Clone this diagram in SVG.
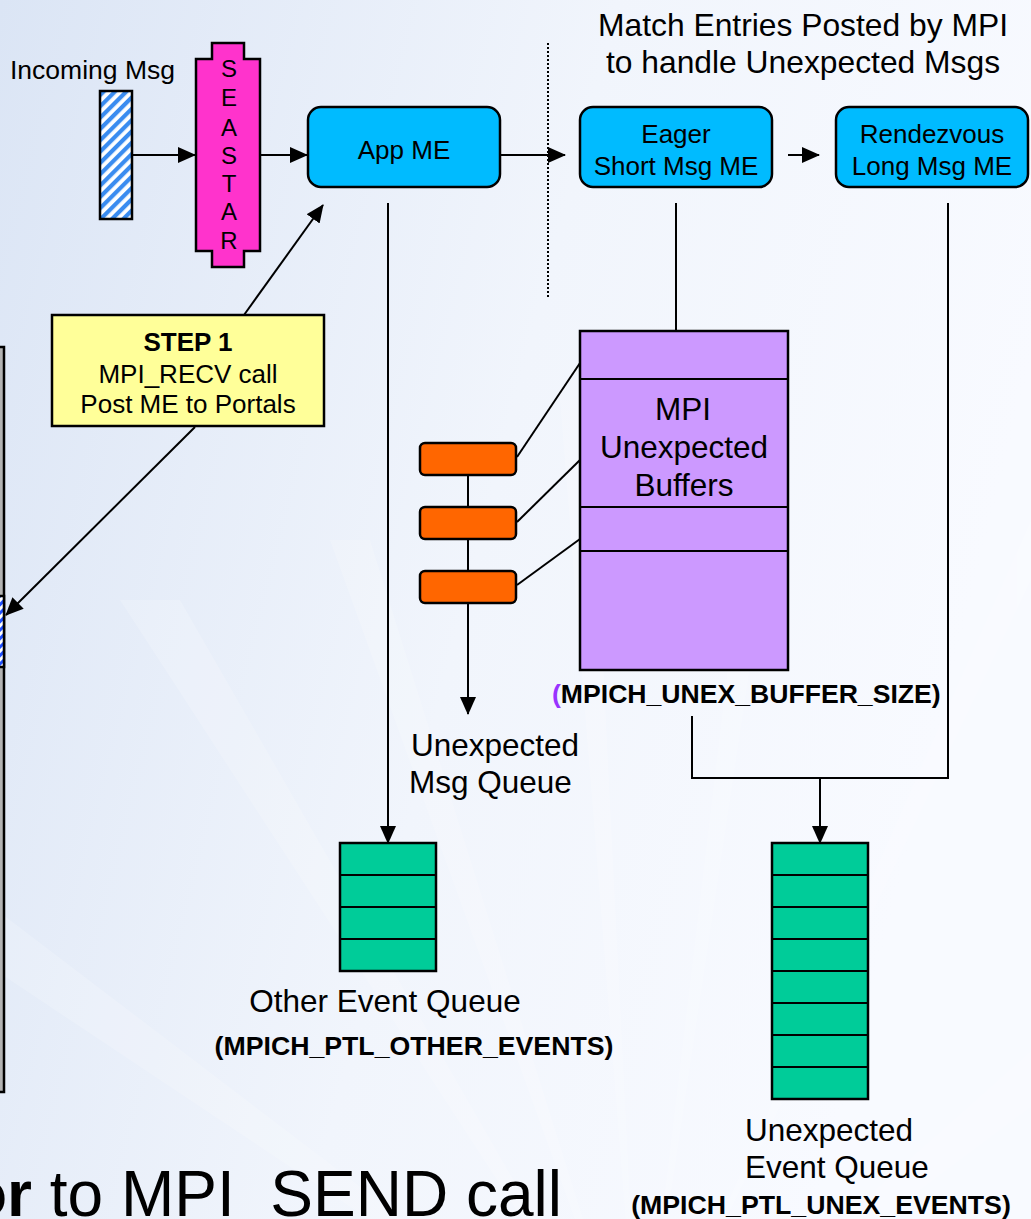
<svg xmlns="http://www.w3.org/2000/svg" width="1031" height="1219" viewBox="0 0 1031 1219">
<defs>
<linearGradient id="bg" x1="0" y1="0" x2="1" y2="0.3">
<stop offset="0" stop-color="#dbe5f5"/>
<stop offset="0.55" stop-color="#f1f5fc"/>
<stop offset="1" stop-color="#f8faff"/>
</linearGradient>
<pattern id="hatch" patternUnits="userSpaceOnUse" width="8" height="8" patternTransform="rotate(-45)">
<rect width="8" height="8" fill="#ffffff"/>
<rect width="8" height="4.2" fill="#3a8cf0"/>
</pattern>
<pattern id="hatch2" patternUnits="userSpaceOnUse" width="6" height="6" patternTransform="rotate(-45)">
<rect width="6" height="6" fill="#ffffff"/>
<rect width="6" height="3" fill="#1f4fff"/>
</pattern>
<marker id="ah" markerUnits="userSpaceOnUse" markerWidth="18" markerHeight="16" refX="17" refY="8" orient="auto">
<path d="M0,0 L18,8 L0,16 z" fill="#000"/>
</marker>
<style>
.t{font-family:"Liberation Sans",Arial,sans-serif;fill:#000;}
.b{font-weight:bold;}
.c{text-anchor:middle;}
.box{stroke:#000;stroke-width:2.5;}
.ln{stroke:#000;stroke-width:2;fill:none;}
.arr{stroke:#000;stroke-width:2;fill:none;marker-end:url(#ah);}
</style>
</defs>

<rect width="1031" height="1219" fill="url(#bg)"/>
<g id="rays" fill="#ffffff" opacity="0.18">
<polygon points="640,1400 -200,760 -200,840"/>
<polygon points="640,1400 120,600 180,600"/>
<polygon points="640,1400 330,540 370,540"/>
<polygon points="640,1400 560,400 590,400"/>
<polygon points="640,1400 760,400 790,400"/>
<polygon points="640,1400 1031,520 1031,580"/>
<polygon points="640,1400 1200,900 1200,980"/>
</g>

<g id="left-bar">
<rect x="-10" y="347" width="14" height="745" fill="#b3b3b3" class="box"/>
<rect x="-10" y="596" width="14" height="71" fill="url(#hatch2)" class="box"/>
</g>

<g id="connectors">
<line class="arr" x1="132" y1="155" x2="195" y2="155"/>
<line class="arr" x1="260" y1="155" x2="307" y2="155"/>
<line class="arr" x1="500" y1="155" x2="565" y2="155"/>
<line class="arr" x1="788" y1="155" x2="819" y2="155"/>
<line x1="548" y1="43" x2="548" y2="297" stroke="#000" stroke-width="2" stroke-dasharray="2,2"/>
<line class="arr" x1="244" y1="315" x2="323" y2="205"/>
<line class="arr" x1="195" y1="427" x2="6" y2="615"/>
<line class="arr" x1="388" y1="203" x2="388" y2="843"/>
<line class="ln" x1="676" y1="203" x2="676" y2="331"/>
<line class="arr" x1="468" y1="470" x2="468" y2="714"/>
<line class="ln" x1="517" y1="457" x2="580" y2="363"/>
<line class="ln" x1="517" y1="522" x2="580" y2="460"/>
<line class="ln" x1="517" y1="585" x2="580" y2="539"/>
<polyline class="ln" points="692,716 692,778 948,778 948,203"/>
<line class="arr" x1="820" y1="778" x2="820" y2="843"/>
</g>

<g id="incoming-msg">
<text class="t" x="10" y="79" font-size="26.5">Incoming Msg</text>
<rect x="100" y="91" width="32" height="128" fill="url(#hatch)" class="box"/>
</g>

<g id="seastar">
<path d="M212,43 H244 V59 H260 V251 H244 V267 H212 V251 H196 V59 H212 Z" fill="#ff33cc" class="box"/>
<g class="t c" font-size="24">
<text x="229" y="77">S</text>
<text x="229" y="106">E</text>
<text x="229" y="136">A</text>
<text x="229" y="164">S</text>
<text x="229" y="192">T</text>
<text x="229" y="220">A</text>
<text x="229" y="249">R</text>
</g>
</g>

<g id="app-me">
<rect x="308" y="107" width="192" height="80" rx="13" fill="#00bbff" class="box"/>
<text class="t c" x="404" y="159" font-size="26">App ME</text>
</g>

<g id="match-title">
<text class="t c" x="803" y="36" font-size="31.8">Match Entries Posted by MPI</text>
<text class="t c" x="803" y="73" font-size="31.8">to handle Unexpected Msgs</text>
</g>

<g id="eager-me">
<rect x="580" y="107" width="192" height="80" rx="13" fill="#00bbff" class="box"/>
<text class="t c" x="676" y="143" font-size="26">Eager</text>
<text class="t c" x="676" y="175" font-size="26">Short Msg ME</text>
</g>

<g id="rendezvous-me">
<rect x="836" y="107" width="192" height="80" rx="13" fill="#00bbff" class="box"/>
<text class="t c" x="932" y="143" font-size="26">Rendezvous</text>
<text class="t c" x="932" y="175" font-size="26">Long Msg ME</text>
</g>

<g id="step1">
<rect x="52" y="315" width="272" height="111" fill="#ffff99" class="box"/>
<text class="t c b" x="188" y="351" font-size="26">STEP 1</text>
<text class="t c" x="188" y="383" font-size="26">MPI_RECV call</text>
<text class="t c" x="188" y="413" font-size="26">Post ME to Portals</text>
</g>

<g id="unexpected-msg-queue">
<rect x="420" y="443" width="96" height="32" rx="5" fill="#ff6600" class="box"/>
<rect x="420" y="507" width="96" height="32" rx="5" fill="#ff6600" class="box"/>
<rect x="420" y="571" width="96" height="32" rx="5" fill="#ff6600" class="box"/>
<text class="t" x="411" y="756" font-size="31.5">Unexpected</text>
<text class="t" x="409" y="793" font-size="31.5">Msg Queue</text>
</g>

<g id="mpi-buffers">
<rect x="580" y="331" width="208" height="339" fill="#cc99ff" class="box"/>
<line class="ln" x1="580" y1="379" x2="788" y2="379"/>
<line class="ln" x1="580" y1="507" x2="788" y2="507"/>
<line class="ln" x1="580" y1="551" x2="788" y2="551"/>
<text class="t c" x="683" y="420" font-size="31.5">MPI</text>
<text class="t c" x="684" y="458" font-size="31.5">Unexpected</text>
<text class="t c" x="684" y="496" font-size="31.5">Buffers</text>
<text class="t b" x="552" y="703" font-size="26.6"><tspan fill="#9933ff">(</tspan>MPICH_UNEX_BUFFER_SIZE)</text>
</g>

<g id="other-event-queue">
<rect x="340" y="843" width="96" height="128" fill="#00cc99" class="box"/>
<line class="ln" x1="340" y1="875" x2="436" y2="875"/>
<line class="ln" x1="340" y1="907" x2="436" y2="907"/>
<line class="ln" x1="340" y1="939" x2="436" y2="939"/>
<text class="t c" x="385" y="1012" font-size="31.5">Other Event Queue</text>
<text class="t c b" x="414" y="1055" font-size="26.7">(MPICH_PTL_OTHER_EVENTS)</text>
</g>

<g id="unexpected-event-queue">
<rect x="772" y="843" width="96" height="256" fill="#00cc99" class="box"/>
<line class="ln" x1="772" y1="875" x2="868" y2="875"/>
<line class="ln" x1="772" y1="907" x2="868" y2="907"/>
<line class="ln" x1="772" y1="939" x2="868" y2="939"/>
<line class="ln" x1="772" y1="971" x2="868" y2="971"/>
<line class="ln" x1="772" y1="1003" x2="868" y2="1003"/>
<line class="ln" x1="772" y1="1035" x2="868" y2="1035"/>
<line class="ln" x1="772" y1="1067" x2="868" y2="1067"/>
<text class="t" x="745" y="1141" font-size="31.5">Unexpected</text>
<text class="t" x="745" y="1178" font-size="31.5">Event Queue</text>
<text class="t c b" x="821" y="1214" font-size="26.7">(MPICH_PTL_UNEX_EVENTS)</text>
</g>

<g id="bottom-caption">
<text class="t" x="-32" y="1216" font-size="64"><tspan font-weight="bold">or</tspan> to MPI_SEND call</text>
</g>
</svg>
